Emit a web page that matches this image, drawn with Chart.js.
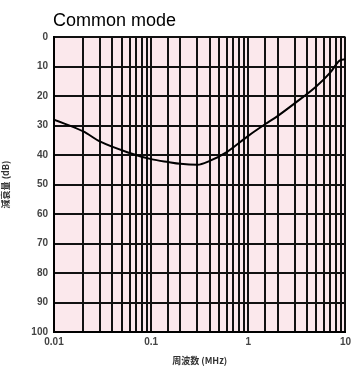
<!DOCTYPE html>
<html lang="ja">
<head>
  <meta charset="utf-8">
  <title>Common mode</title>
  <script src="https://cdn.jsdelivr.net/npm/chart.js@4.4.0/dist/chart.umd.min.js"></script>
  <style>
    html, body { margin: 0; padding: 0; background: #fff; }
    #wrap { width: 355px; height: 370px; }
  </style>
</head>
<body>
<div id="wrap"><canvas id="myChart" width="355" height="370"></canvas></div>
<script>
// frequency (MHz) and attenuation (dB)
var freq  = [0.01, 0.02, 0.03, 0.06, 0.1, 0.15, 0.2, 0.3, 0.4, 0.6, 1, 1.5, 2, 3, 5, 7, 8.7, 10];
var atten = [28, 32, 35.5, 39.3, 41.4, 42.4, 43, 43.3, 42, 39, 33.5, 29.5, 26.8, 22.5, 16.8, 12, 8, 7.5];
var xLabels = [0.01, 0.1, 1, 10];
var yTicks = [0, 10, 20, 30, 40, 50, 60, 70, 80, 90, 100];

var points = freq.map(function (f, i) { return { x: f, y: atten[i] }; });

var bgPlugin = {
  id: 'bg',
  beforeDraw: function (chart) {
    var a = chart.chartArea, ctx = chart.ctx;
    ctx.save();
    ctx.fillStyle = '#fbe8ec';
    ctx.fillRect(a.left, a.top, a.right - a.left, a.bottom - a.top);
    ctx.restore();
  },
  afterDraw: function (chart) {
    var ctx = chart.ctx;
    ctx.save();
    ctx.fillStyle = '#000';
    ctx.font = '18px "Liberation Sans", Arial, sans-serif';
    ctx.textBaseline = 'middle';
    ctx.fillText('Common mode', 53, 21);
    ctx.restore();
  }
};

new Chart('myChart', {
  type: 'line',
  data: {
    datasets: [{
      data: points,
      borderColor: '#000',
      borderWidth: 2,
      pointRadius: 0,
      cubicInterpolationMode: 'monotone',
      fill: false
    }]
  },
  options: {
    responsive: false,
    animation: false,
    layout: { padding: { top: 37, right: 3, left: 0, bottom: 0 } },
    plugins: { legend: { display: false }, title: { display: false }, tooltip: { enabled: false } },
    scales: {
      x: {
        type: 'logarithmic',
        min: 0.01,
        max: 10,
        border: { color: '#000', width: 2 },
        grid: { color: '#111', lineWidth: 2, drawTicks: false },
        ticks: {
          autoSkip: false,
          maxRotation: 0,
          padding: 4,
          color: '#444',
          font: { family: '"Liberation Sans", Arial, sans-serif', size: 10, weight: 'bold' },
          callback: function (v) {
            var n = Number(v.toPrecision(3));
            return xLabels.indexOf(n) >= 0 ? String(n) : '';
          }
        },
        title: {
          display: true,
          text: '周波数 (MHz)',
          color: '#333',
          padding: { top: 3, bottom: 4 },
          font: { family: '"Noto Sans CJK JP", sans-serif', size: 9, weight: 'bold' }
        },
        afterFit: function (s) { s.height = 38; }
      },
      y: {
        min: 0,
        max: 100,
        reverse: true,
        border: { color: '#000', width: 2 },
        grid: { color: '#111', lineWidth: 2, drawTicks: false },
        afterBuildTicks: function (s) { s.ticks = yTicks.map(function (v) { return { value: v }; }); },
        ticks: {
          padding: 6,
          color: '#444',
          font: { family: '"Liberation Sans", Arial, sans-serif', size: 10, weight: 'bold' }
        },
        title: {
          display: true,
          text: '減衰量 (dB)',
          color: '#333',
          padding: { top: 0, bottom: 2 },
          font: { family: '"Noto Sans CJK JP", sans-serif', size: 9, weight: 'bold' }
        },
        afterFit: function (s) { s.width = 54; }
      }
    }
  },
  plugins: [bgPlugin]
});
</script>
</body>
</html>
